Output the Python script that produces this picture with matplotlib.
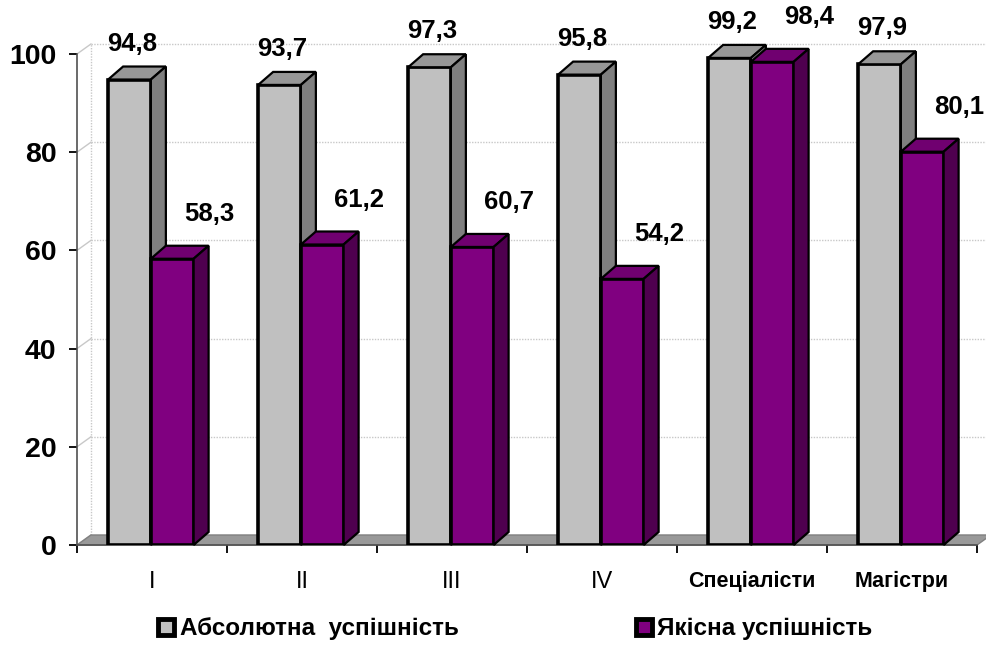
import matplotlib
matplotlib.use("Agg")
import matplotlib.pyplot as plt
from matplotlib.patches import Polygon, Rectangle
import numpy as np

plt.rcParams['font.family'] = ['Liberation Sans', 'DejaVu Sans']

# ---- data ----
categories = ["I", "II", "III", "IV", "Спеціалісти", "Магістри"]
absolute = [94.8, 93.7, 97.3, 95.8, 99.2, 97.9]
quality = [58.3, 61.2, 60.7, 54.2, 98.4, 80.1]
abs_labels = ["94,8", "93,7", "97,3", "95,8", "99,2", "97,9"]
qual_labels = ["58,3", "61,2", "60,7", "54,2", "98,4", "80,1"]
series_names = ["Абсолютна  успішність", "Якісна успішність"]
yticks = [0, 20, 40, 60, 80, 100]

# ---- style ----
W, H, DPI = 987, 646, 100
gray_front, gray_top, gray_side = "#c0c0c0", "#979797", "#7f7f7f"
pur_front, pur_top, pur_side = "#800080", "#700070", "#4f004f"

fig = plt.figure(figsize=(W / DPI, H / DPI), dpi=DPI)
ax = fig.add_axes([77 / W, 101 / H, 900 / W, 491 / H])
ax.set_xlim(-0.5, len(categories) - 0.5)
ax.set_ylim(0, 100)

# depth of the pseudo-3D projection (data units)
bdx, bdy = 0.10, 2.65     # bars
wdx, wdy = 0.093, 2.04    # walls
bw = 0.285
x = np.arange(len(categories))
xg = x - 0.15
xp = x + 0.135

# back wall gridlines and left wall connectors
x0, x1 = -0.5, len(categories) - 0.5
for v in yticks:
    if v > 0:
        ax.plot([x0 + wdx, x1 + wdx + 0.1], [v + wdy, v + wdy], color="#c8c8c8",
                lw=1.0, ls=(0, (1, 1)), zorder=1, clip_on=False)
    ax.plot([x0, x0 + wdx], [v, v + wdy], color="#c8c8c8", lw=1.0, zorder=1, clip_on=False)
ax.plot([x0 + wdx, x0 + wdx], [wdy, 100 + wdy], color="#c8c8c8", lw=1.0,
        ls=(0, (1, 1)), zorder=1, clip_on=False)

# floor
floor = Polygon([[x0, 0], [x1, 0], [x1 + wdx, wdy], [x0 + wdx, wdy]], closed=True,
                facecolor="#999999", edgecolor="#808080", lw=1.0, zorder=1.5, clip_on=False)
ax.add_patch(floor)


def bars3d(xc, vals, front, top, side):
    rects = ax.bar(xc, vals, width=bw, color=front, edgecolor="black", linewidth=2.6, zorder=3)
    for r, v in zip(rects, vals):
        l = r.get_x()
        rr = l + r.get_width()
        ax.add_patch(Polygon([[l, v], [rr, v], [rr + bdx, v + bdy], [l + bdx, v + bdy]],
                             closed=True, facecolor=top, edgecolor="black", lw=1.6,
                             zorder=3, clip_on=False))
        ax.add_patch(Polygon([[rr, 0], [rr, v], [rr + bdx, v + bdy], [rr + bdx, bdy]],
                             closed=True, facecolor=side, edgecolor="black", lw=1.6,
                             zorder=3, clip_on=False))
    return rects


# draw per category so that purple front covers gray side
for i in range(len(categories)):
    bars3d([xg[i]], [absolute[i]], gray_front, gray_top, gray_side)
    bars3d([xp[i]], [quality[i]], pur_front, pur_top, pur_side)

# value labels
for i in range(len(categories)):
    ax.text(xg[i] + 0.02, absolute[i] + 7.3, abs_labels[i], ha="center", va="center",
            fontsize=18.5, fontweight="bold", zorder=5, clip_on=False)
    ax.text(xp[i] + 0.247, quality[i] + 9.1, qual_labels[i], ha="center", va="center",
            fontsize=18.5, fontweight="bold", zorder=5, clip_on=False)

# axes styling
for s in ["top", "right"]:
    ax.spines[s].set_visible(False)
for s in ["left", "bottom"]:
    ax.spines[s].set_color("#505050")
    ax.spines[s].set_linestyle((0, (1, 1)))
    ax.spines[s].set_linewidth(1.2)

ax.set_yticks(yticks)
ax.set_yticklabels([str(v) for v in yticks])
ax.tick_params(axis="y", direction="out", length=5.8, width=1.3, pad=9, labelsize=20.5)
for t in ax.get_yticklabels():
    t.set_fontweight("bold")

ax.set_xticks(x)
ax.set_xticklabels(categories)
ax.set_xticks(np.arange(len(categories) + 1) - 0.5, minor=True)
ax.tick_params(axis="x", which="major", length=0, pad=19)
ax.tick_params(axis="x", which="minor", direction="out", length=5.8, width=1.3)
for t in ax.get_xticklabels():
    if t.get_text() in ("I", "II", "III", "IV"):
        t.set_fontsize(17)
        t.set_fontweight("normal")
        t.set_family(["Liberation Sans Narrow", "Liberation Sans"])
    else:
        t.set_fontsize(15.5)
        t.set_fontweight("bold")

# legend (drawn in figure pixel positions)
def px(xp_, yp_):
    return xp_ / W, 1 - yp_ / H

for (mx, tx), name, fc in zip([(158, 180), (636, 657)], series_names, [gray_front, pur_front]):
    bx, by = px(mx, 635)
    fig.add_artist(Rectangle((bx, by), 16 / W, 16 / H, transform=fig.transFigure,
                             facecolor=fc, edgecolor="black", lw=3.5))
    tx_, ty_ = px(tx, 628)
    fig.text(tx_, ty_, name, ha="left", va="center", fontsize=17.5, fontweight="bold")

fig.savefig("out.png", dpi=DPI)
